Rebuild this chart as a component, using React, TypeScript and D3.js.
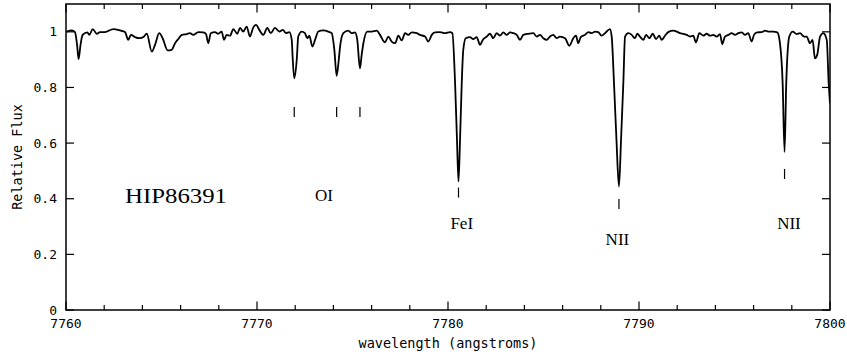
import React from "react";
import * as d3 from "d3";

// Normalised spectrum of HIP86391 around the O I 7774 triplet
const wavelength = [
  7760.04, 7760.3, 7760.47, 7760.58, 7760.66, 7760.76, 7760.87, 7761.12, 7761.22, 7761.4,
  7761.61, 7761.78, 7762.04, 7762.48, 7762.83, 7763.09, 7763.26, 7763.4, 7763.61, 7763.87,
  7764.05, 7764.23, 7764.49, 7764.66, 7764.88, 7765.06, 7765.32, 7765.53, 7765.71, 7765.88,
  7766.06, 7766.32, 7766.49, 7766.66, 7766.93, 7767.19, 7767.33, 7767.45, 7767.58, 7767.8,
  7767.97, 7768.15, 7768.27, 7768.41, 7768.59, 7768.76, 7768.97, 7769.11, 7769.28, 7769.46,
  7769.63, 7769.81, 7769.95, 7770.12, 7770.33, 7770.54, 7770.72, 7770.94, 7771.17, 7771.35,
  7771.52, 7771.69, 7771.82, 7771.86, 7771.95, 7772.08, 7772.16, 7772.34, 7772.51, 7772.63,
  7772.74, 7772.9, 7773.04, 7773.21, 7773.47, 7773.73, 7773.91, 7774.05, 7774.17, 7774.27,
  7774.35, 7774.52, 7774.78, 7774.96, 7775.13, 7775.25, 7775.39, 7775.48, 7775.57, 7775.77,
  7776.01, 7776.27, 7776.44, 7776.7, 7776.87, 7777.05, 7777.23, 7777.4, 7777.58, 7777.75,
  7777.92, 7778.1, 7778.36, 7778.53, 7778.8, 7778.97, 7779.15, 7779.32, 7779.58, 7779.84,
  7780.1, 7780.23, 7780.37, 7780.47, 7780.55, 7780.63, 7780.72, 7780.8, 7780.93, 7781.15,
  7781.32, 7781.5, 7781.68, 7781.82, 7782.03, 7782.2, 7782.37, 7782.55, 7782.72, 7782.9,
  7783.07, 7783.25, 7783.42, 7783.6, 7783.77, 7783.94, 7784.2, 7784.47, 7784.64, 7784.82,
  7784.99, 7785.17, 7785.34, 7785.51, 7785.69, 7785.86, 7786.13, 7786.35, 7786.56, 7786.7,
  7786.82, 7786.95, 7787.17, 7787.35, 7787.52, 7787.7, 7787.87, 7788.05, 7788.22, 7788.48,
  7788.57, 7788.69, 7788.82, 7788.95, 7789.06, 7789.18, 7789.27, 7789.44, 7789.62, 7789.79,
  7789.91, 7790.05, 7790.23, 7790.37, 7790.54, 7790.72, 7790.89, 7791.06, 7791.19, 7791.36,
  7791.53, 7791.8, 7791.97, 7792.15, 7792.32, 7792.5, 7792.67, 7792.84, 7792.98, 7793.16,
  7793.37, 7793.54, 7793.72, 7793.89, 7794.07, 7794.24, 7794.36, 7794.5, 7794.68, 7794.85,
  7795.03, 7795.2, 7795.38, 7795.55, 7795.72, 7795.9, 7796.02, 7796.19, 7796.42, 7796.6,
  7796.77, 7797.03, 7797.24, 7797.38, 7797.52, 7797.62, 7797.71, 7797.87, 7798.05, 7798.26,
  7798.43, 7798.64, 7798.78, 7798.95, 7799.09, 7799.21, 7799.33, 7799.48, 7799.65, 7799.83,
  7799.93, 7800.0,
];

const flux = [
  1.001, 1.005, 0.999, 0.953, 0.902, 0.953, 0.989, 0.998, 0.989, 1.01,
  0.993, 0.999, 0.999, 1.01, 1.005, 0.999, 0.971, 0.989, 0.981, 0.977,
  0.981, 0.993, 0.929, 0.953, 0.995, 0.977, 0.933, 0.935, 0.959, 0.974,
  0.989, 0.992, 0.995, 0.989, 0.999, 0.998, 0.992, 0.959, 0.995, 0.999,
  0.993, 1.001, 0.971, 0.989, 0.986, 1.01, 0.993, 1.014, 1.001, 1.019,
  0.983, 1.017, 1.025, 1.007, 0.989, 1.014, 0.995, 1.014, 1.001, 1.007,
  0.995, 0.999, 0.971, 0.917, 0.833, 0.899, 0.983, 1.001, 0.995, 0.977,
  0.986, 0.947, 0.971, 1.001, 1.005, 1.001, 0.995, 0.935, 0.842, 0.892,
  0.947, 0.995, 1.004, 0.995, 0.998, 0.971, 0.869, 0.917, 0.959, 1.001,
  1.001, 1.004, 0.989, 0.962, 0.983, 0.965, 0.959, 0.986, 0.969, 0.995,
  0.989, 0.998, 0.995, 0.989, 0.983, 0.965, 0.989, 0.998, 0.999, 0.995,
  0.999, 0.995, 0.817, 0.612, 0.462, 0.612, 0.817, 0.935, 0.977, 0.981,
  0.974, 0.981, 0.953, 0.971, 0.983, 0.993, 0.977, 0.995, 0.986, 0.998,
  0.989, 0.998, 0.995, 0.989, 0.971, 0.989, 0.993, 0.995, 0.983, 0.989,
  0.977, 0.971, 0.983, 0.989, 0.977, 0.983, 0.977, 0.95, 0.977, 0.986,
  0.959, 0.981, 0.989, 0.999, 0.995, 1.001, 0.999, 0.986, 0.995, 1.01,
  0.983, 0.817, 0.612, 0.444, 0.612, 0.817, 0.983, 0.995, 0.989, 0.977,
  0.993, 0.983, 0.971, 0.989, 0.977, 0.993, 0.974, 0.986, 0.971, 0.986,
  0.999, 1.004, 1.001, 0.995, 0.993, 0.989, 0.983, 0.986, 0.962, 0.995,
  0.986, 0.993, 0.986, 0.989, 0.983, 0.992, 0.956, 0.983, 0.989, 0.995,
  0.989, 0.995, 0.998, 0.989, 0.995, 0.965, 0.989, 0.998, 0.999, 1.004,
  1.001, 1.001, 0.998, 0.959, 0.817, 0.568, 0.817, 0.983, 1.001, 0.992,
  0.995, 0.983, 0.983, 0.959, 0.971, 0.905, 0.917, 0.983, 0.995, 0.971,
  0.817, 0.743,
];

// Identified absorption lines: rest wavelength and the flux span of each marker
const markerWavelength = [7771.95, 7774.17, 7775.39, 7780.55, 7788.95, 7797.62];
const markerTop = [0.73, 0.73, 0.73, 0.44, 0.399, 0.507];
const markerBottom = [0.694, 0.694, 0.694, 0.404, 0.363, 0.471];

// Species labels, anchored in data coordinates
const labelText = ["OI", "FeI", "NII", "NII"];
const labelWavelength = [7773.51, 7780.72, 7788.87, 7797.85];
const labelFlux = [0.392, 0.291, 0.234, 0.291];

const starName = "HIP86391";
const starWavelength = 7763.09;
const starFlux = 0.386;

const xTicks = [7760, 7770, 7780, 7790, 7800];
const yTicks = [0, 0.2, 0.4, 0.6, 0.8, 1];

const W = 847;
const H = 359;
const margin = { left: 66, right: 17, top: 4, bottom: 49 };

export default function App() {
  const x = d3
    .scaleLinear()
    .domain([7760, 7800])
    .range([margin.left, W - margin.right]);
  const y = d3
    .scaleLinear()
    .domain([0, 1.1])
    .range([H - margin.bottom, margin.top]);

  const pts = wavelength.map((w, i) => [w, flux[i]] as [number, number]);
  const line = d3
    .line<[number, number]>()
    .x((d) => x(d[0]))
    .y((d) => y(d[1]))
    .curve(d3.curveMonotoneX);

  const minorX = d3.range(7760, 7800.01, 2).filter((v) => v % 10 !== 0);
  const x0 = x.range()[0];
  const x1 = x.range()[1];
  const yBot = y.range()[0];
  const yTop = y.range()[1];
  const mono = "'DejaVu Sans Mono', monospace";
  const serif = "'Liberation Serif', 'DejaVu Serif', serif";

  return (
    <svg
      width={W}
      height={H}
      style={{ position: "absolute", left: 0, top: 0, background: "#fff" }}
    >
      <defs>
        <clipPath id="plot-area">
          <rect x={x0} y={yTop} width={x1 - x0} height={yBot - yTop} />
        </clipPath>
      </defs>

      {/* spectrum */}
      <path
        d={line(pts) ?? ""}
        fill="none"
        stroke="#000"
        strokeWidth={1.8}
        strokeLinejoin="round"
        clipPath="url(#plot-area)"
      />

      {/* line identification markers */}
      {markerWavelength.map((w, i) => (
        <line
          key={"m" + i}
          x1={x(w)}
          x2={x(w)}
          y1={y(markerTop[i])}
          y2={y(markerBottom[i])}
          stroke="#000"
          strokeWidth={1.2}
        />
      ))}

      {labelText.map((t, i) => (
        <text
          key={"l" + i}
          x={x(labelWavelength[i])}
          y={y(labelFlux[i])}
          textAnchor="middle"
          fontFamily={serif}
          fontSize={17}
          fill="#000"
        >
          {t}
        </text>
      ))}

      <text
        x={x(starWavelength)}
        y={y(starFlux)}
        fontFamily={serif}
        fontSize={22}
        textLength={102}
        lengthAdjust="spacingAndGlyphs"
        fill="#000"
      >
        {starName}
      </text>

      {/* frame */}
      <rect
        x={x0}
        y={yTop}
        width={x1 - x0}
        height={yBot - yTop}
        fill="none"
        stroke="#000"
        strokeWidth={1.5}
      />

      {/* x ticks, bottom and top */}
      {xTicks.map((v) => (
        <g key={"xt" + v}>
          <line x1={x(v)} x2={x(v)} y1={yBot} y2={yBot - 8.5} stroke="#000" strokeWidth={1.2} />
          <line x1={x(v)} x2={x(v)} y1={yTop} y2={yTop + 8.5} stroke="#000" strokeWidth={1.2} />
          <text
            x={x(v)}
            y={yBot + 18}
            textAnchor="middle"
            fontFamily={mono}
            fontSize={13}
            fill="#000"
          >
            {v}
          </text>
        </g>
      ))}
      {minorX.map((v) => (
        <g key={"xm" + v}>
          <line x1={x(v)} x2={x(v)} y1={yBot} y2={yBot - 5} stroke="#000" strokeWidth={1.2} />
          <line x1={x(v)} x2={x(v)} y1={yTop} y2={yTop + 5} stroke="#000" strokeWidth={1.2} />
        </g>
      ))}

      {/* y ticks, left and right */}
      {yTicks.map((v) => (
        <g key={"yt" + v}>
          <line x1={x0} x2={x0 + 8} y1={y(v)} y2={y(v)} stroke="#000" strokeWidth={1.2} />
          <line x1={x1} x2={x1 - 8} y1={y(v)} y2={y(v)} stroke="#000" strokeWidth={1.2} />
          <text
            x={x0 - 9}
            y={y(v) + 4.5}
            textAnchor="end"
            fontFamily={mono}
            fontSize={13}
            fill="#000"
          >
            {d3.format("~g")(v)}
          </text>
        </g>
      ))}

      {/* axis titles */}
      <text
        x={(x0 + x1) / 2}
        y={348}
        textAnchor="middle"
        fontFamily={mono}
        fontSize={13.5}
        fill="#000"
      >
        wavelength (angstroms)
      </text>
      <text
        transform={`translate(22, ${(yTop + yBot) / 2}) rotate(-90)`}
        textAnchor="middle"
        fontFamily={mono}
        fontSize={13.5}
        fill="#000"
      >
        Relative Flux
      </text>
    </svg>
  );
}
